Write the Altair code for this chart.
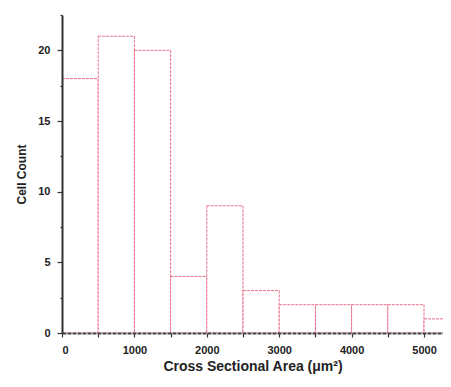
import altair as alt
import pandas as pd

bin_start = [0, 500, 1000, 1500, 2000, 2500, 3000, 3500, 4000, 4500, 5000]
bin_end = [500, 1000, 1500, 2000, 2500, 3000, 3500, 4000, 4500, 5000, 5500]
counts = [18, 21, 20, 4, 9, 3, 2, 2, 2, 2, 1]
y_ticks = [0, 2.5, 5, 7.5, 10, 12.5, 15, 17.5, 20, 22.5]
x_ticks = [0, 500, 1000, 1500, 2000, 2500, 3000, 3500, 4000, 4500, 5000]

df = pd.DataFrame({"start": bin_start, "end": bin_end, "count": counts})

FONT = "Liberation Sans"
xscale = alt.Scale(domain=[0, 5262], nice=False, zero=False)
yscale = alt.Scale(domain=[0, 22.5], nice=False)

bars = alt.Chart(df).mark_rect(
    fill="white", stroke="#e8708a", strokeWidth=1, strokeDash=[3, 1], clip=True
).encode(
    x=alt.X("start:Q", scale=xscale,
            axis=alt.Axis(values=x_ticks,
                          labelExpr="datum.value % 1000 == 0 ? datum.label : ''",
                          format="d", grid=False, tickSize=4, tickColor="#333",
                          tickWidth=1.2,
                          domainColor="#444", domainWidth=2, domainDash=[4, 1],
                          labelFont=FONT, labelFontWeight="bold", labelFontSize=11,
                          labelColor="#222", labelPadding=7, zindex=1,
                          title="Cross Sectional Area (\u03bcm\u00b2)",
                          titleFont=FONT, titleFontWeight="bold", titleFontSize=14,
                          titleColor="#222", titlePadding=4)),
    x2="end:Q",
    y=alt.Y("count:Q", scale=yscale,
            axis=alt.Axis(values=y_ticks,
                          labelExpr="datum.value % 5 == 0 ? datum.label : ''",
                          grid=False,
                          tickSize={"condition": {"test": "datum.value % 5 == 0", "value": 5}, "value": 2},
                          tickColor="#333", tickWidth=1.2,
                          domainColor="#333", domainWidth=2, zindex=1,
                          labelFont=FONT, labelFontWeight="bold", labelFontSize=11,
                          labelColor="#222", labelPadding=7,
                          title="Cell Count", titleFont=FONT, titleFontWeight="bold",
                          titleFontSize=12, titleColor="#222", titlePadding=9)),
    y2=alt.datum(0),
)

chart = bars.properties(
    width=381, height=318,
    background="white",
    autosize=alt.AutoSizeParams(type="none"),
    padding={"left": 54, "top": 7, "right": 0, "bottom": 42},
).configure_view(stroke=None)

chart.save("out.html", embed_options={"renderer": "svg", "actions": False})
